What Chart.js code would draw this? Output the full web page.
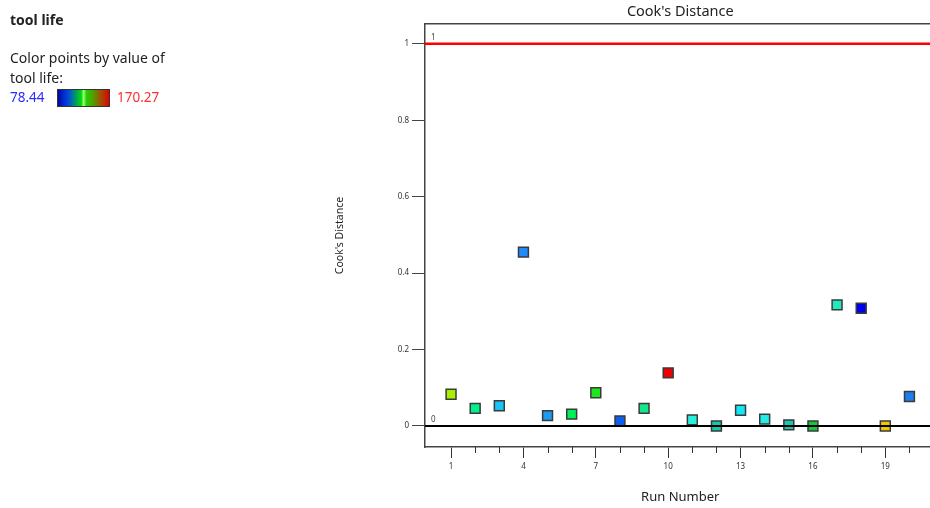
<!DOCTYPE html>
<html>
<head>
<meta charset="utf-8">
<script src="https://cdn.jsdelivr.net/npm/chart.js@4/dist/chart.umd.min.js"></script>
<style>
  html, body { margin:0; padding:0; background:#fff; overflow:hidden; }
  #wrap { position:absolute; left:0; top:0; width:930px; height:508px; overflow:hidden; }
  #c { position:absolute; left:0; top:0; }
  .lg { position:absolute; font-family:"Noto Sans", "Open Sans", sans-serif; color:#222; white-space:nowrap; }
</style>
</head>
<body>
<div id="wrap">
  <canvas id="c" width="944" height="508"></canvas>
  <div class="lg" style="left:10px;top:10px;font-size:14px;font-weight:bold;">tool life</div>
  <div class="lg" style="left:10px;top:48px;font-size:14px;">Color points by value of</div>
  <div class="lg" style="left:10px;top:68px;font-size:14px;">tool life:</div>
  <div class="lg" id="minLbl" style="left:10px;top:88px;font-size:13.5px;color:#2b2bff;"></div>
  <div class="lg" style="left:57px;top:89px;width:51px;height:16px;border:1px solid #333;background:linear-gradient(to right,#0008a0 0%,#0040e0 18%,#00a060 36%,#00e000 46%,#a0ff80 50%,#20d000 56%,#50a000 68%,#a05000 84%,#e00000 100%);"></div>
  <div class="lg" id="maxLbl" style="left:117px;top:88px;font-size:13.5px;color:#ff3030;"></div>
</div>
<script>
// ---- data ----
const runNumbers = [1,2,3,4,5,6,7,8,9,10,11,12,13,14,15,16,17,18,19,20];
const cooksDistance = [0.083,0.046,0.053,0.455,0.027,0.031,0.087,0.013,0.046,0.139,0.016,0.0,0.041,0.018,0.003,0.0,0.317,0.308,0.0,0.077];
const pointColors = ['#a8f000','#00f08c','#19c3f5','#1e8cff','#1e9bf0','#00f05a','#1ee61e','#0a5ff0','#14e68c','#f00000',
                     '#28f0dc','#14c8aa','#14e6f5','#23ebe6','#14c8b4','#14c83c','#1eebbe','#0000f0','#f0c800','#1e7df0'];
const majorTicks = [1,4,7,10,13,16,19];
const yTicks = [0,0.2,0.4,0.6,0.8,1];
const refValues = [1,0];
const colorRange = ['78.44','170.27'];

document.getElementById('minLbl').textContent = colorRange[0];
document.getElementById('maxLbl').textContent = colorRange[1];

const FONT = '"Noto Sans", "Open Sans", sans-serif';

const refLinePlugin = {
  id:'refLines',
  afterDatasetsDraw(chart){
    const {ctx, chartArea:a, scales:{y}} = chart;
    ctx.save();
    refValues.forEach(v => {
      const py = y.getPixelForValue(v);
      ctx.beginPath();
      ctx.strokeStyle = v === 1 ? '#ff0000' : '#000000';
      ctx.lineWidth = v === 1 ? 2.5 : 2;
      ctx.moveTo(a.left, py); ctx.lineTo(a.right, py); ctx.stroke();
      ctx.fillStyle = '#444';
      ctx.font = '8px ' + FONT;
      ctx.textAlign = 'left'; ctx.textBaseline = 'bottom';
      ctx.fillText(String(v), a.left + 6, py - 2);
    });
    ctx.restore();
  },
  afterDraw(chart){
    const {ctx, chartArea:a, scales:{x}} = chart;
    ctx.save();
    ctx.strokeStyle = '#333'; ctx.lineWidth = 1;
    runNumbers.forEach(v => {
      if (majorTicks.includes(v)) return;
      const px = Math.round(x.getPixelForValue(v)) + 0.5;
      ctx.beginPath(); ctx.moveTo(px, a.bottom); ctx.lineTo(px, a.bottom + 6); ctx.stroke();
    });
    ctx.restore();
  }
};

new Chart(document.getElementById('c'), {
  type:'scatter',
  data:{
    datasets:[{
      data: runNumbers.map((r,i)=>({x:r, y:cooksDistance[i]})),
      pointStyle:'rect',
      pointRadius:7,
      pointHoverRadius:7,
      pointBackgroundColor: pointColors,
      pointBorderColor:'#3a3a3a',
      pointBorderWidth:1.5,
      showLine:false
    }]
  },
  options:{
    responsive:false,
    animation:false,
    events:[],
    layout:{padding:{left:330, top:0, right:0, bottom:0}},
    plugins:{legend:{display:false}, tooltip:{enabled:false}},
    scales:{
      x:{
        type:'linear', position:'bottom', min:-0.08, max:21.08,
        afterBuildTicks(s){ s.ticks = runNumbers.map(v=>({value:v})); },
        afterFit(s){ s.height = 61; },
        ticks:{ autoSkip:false, maxRotation:0, padding:4, color:'#333', font:{family:FONT, size:8},
                callback:(v)=> majorTicks.includes(v) ? String(v) : '' },
        grid:{ drawOnChartArea:false, drawTicks:true, tickLength:11,
               tickColor:(c)=> (c.tick && majorTicks.includes(c.tick.value)) ? '#333' : 'rgba(0,0,0,0)' },
        border:{ display:true, color:'#444', width:1.5 },
        title:{ display:true, text:'Run Number', color:'#222', font:{family:FONT, size:13}, padding:{top:4,bottom:3} }
      },
      x2:{
        type:'linear', position:'top', min:-0.08, max:21.08,
        afterFit(s){ s.height = 24; },
        ticks:{ display:false },
        grid:{ display:true, drawOnChartArea:false, drawTicks:false },
        border:{ display:true, color:'#444', width:1.5 },
        title:{ display:true, text:"Cook's Distance", color:'#222', font:{family:FONT, size:14.5}, padding:{top:3,bottom:2} }
      },
      y:{
        type:'linear', position:'left', min:-0.055, max:1.052,
        afterBuildTicks(s){ s.ticks = yTicks.map(v=>({value:v})); },
        afterFit(s){ s.width = 95; },
        ticks:{ padding:3, color:'#333', font:{family:FONT, size:8}, callback:(v)=>String(v) },
        grid:{ drawOnChartArea:false, drawTicks:true, tickLength:13, tickColor:'#444' },
        border:{ display:true, color:'#444', width:1.5 },
        title:{ display:true, text:"Cook's Distance", color:'#222', font:{family:FONT, size:10.5}, padding:{top:4,bottom:4} }
      }
    }
  },
  plugins:[refLinePlugin]
});
</script>
</body>
</html>
